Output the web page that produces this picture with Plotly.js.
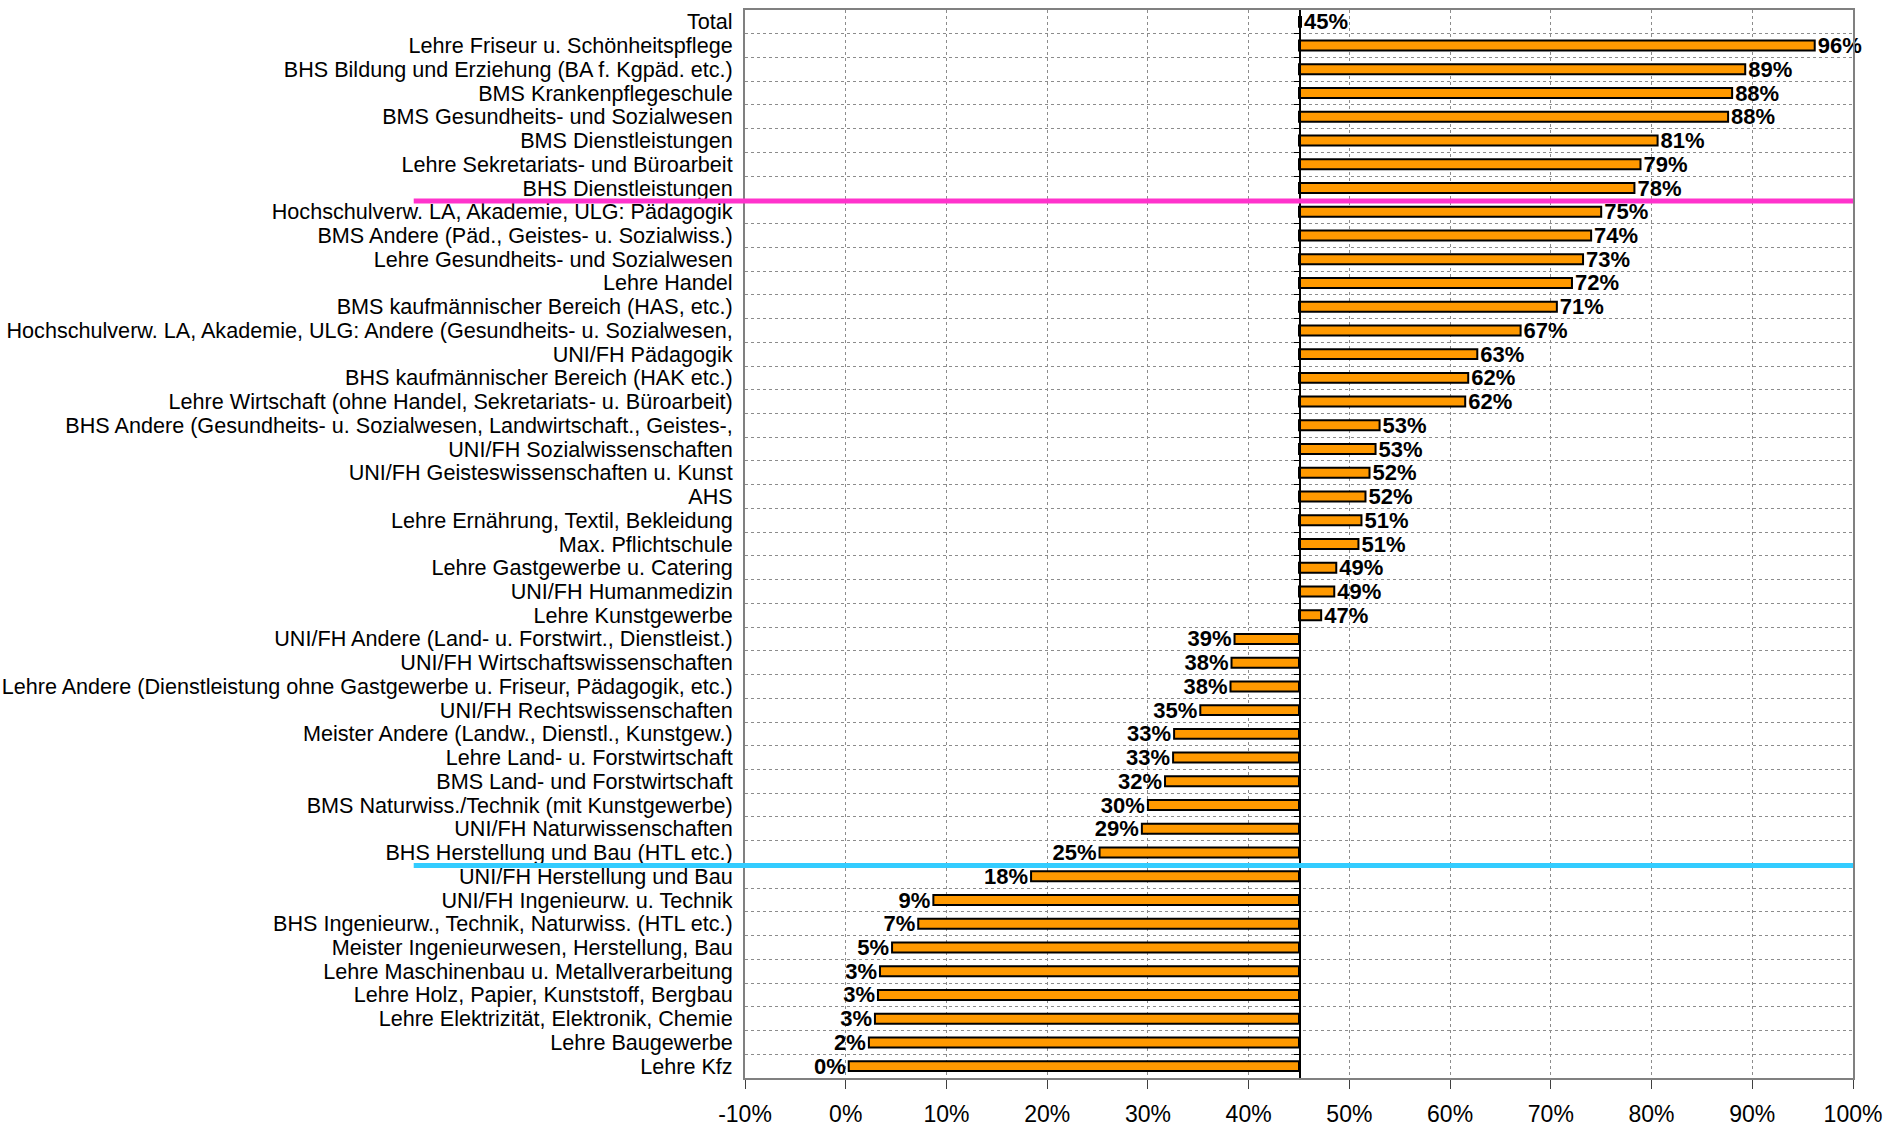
<!DOCTYPE html>
<html>
<head>
<meta charset="utf-8">
<script src="https://cdn.plot.ly/plotly-3.0.1.min.js"></script>
<style>
  html, body { margin: 0; padding: 0; background: #ffffff; }
  #chart { width: 1883px; height: 1132px; }
</style>
</head>
<body>
<div id="chart"></div>
<script>
// ---- data ----
const categories = [
  "Total",
  "Lehre Friseur u. Schönheitspflege",
  "BHS Bildung und Erziehung (BA f. Kgpäd. etc.)",
  "BMS Krankenpflegeschule",
  "BMS Gesundheits- und Sozialwesen",
  "BMS Dienstleistungen",
  "Lehre Sekretariats- und Büroarbeit",
  "BHS Dienstleistungen",
  "Hochschulverw. LA, Akademie, ULG: Pädagogik",
  "BMS Andere (Päd., Geistes- u. Sozialwiss.)",
  "Lehre Gesundheits- und Sozialwesen",
  "Lehre Handel",
  "BMS kaufmännischer Bereich (HAS, etc.)",
  "Hochschulverw. LA, Akademie, ULG: Andere (Gesundheits- u. Sozialwesen,",
  "UNI/FH Pädagogik",
  "BHS kaufmännischer Bereich (HAK etc.)",
  "Lehre Wirtschaft (ohne Handel, Sekretariats- u. Büroarbeit)",
  "BHS Andere (Gesundheits- u. Sozialwesen, Landwirtschaft., Geistes-,",
  "UNI/FH Sozialwissenschaften",
  "UNI/FH Geisteswissenschaften u. Kunst",
  "AHS",
  "Lehre Ernährung, Textil, Bekleidung",
  "Max. Pflichtschule",
  "Lehre Gastgewerbe u. Catering",
  "UNI/FH Humanmedizin",
  "Lehre Kunstgewerbe",
  "UNI/FH Andere (Land- u. Forstwirt., Dienstleist.)",
  "UNI/FH Wirtschaftswissenschaften",
  "Lehre Andere (Dienstleistung ohne Gastgewerbe u. Friseur, Pädagogik, etc.)",
  "UNI/FH Rechtswissenschaften",
  "Meister Andere (Landw., Dienstl., Kunstgew.)",
  "Lehre Land- u. Forstwirtschaft",
  "BMS Land- und Forstwirtschaft",
  "BMS Naturwiss./Technik (mit Kunstgewerbe)",
  "UNI/FH Naturwissenschaften",
  "BHS Herstellung und Bau (HTL etc.)",
  "UNI/FH Herstellung und Bau",
  "UNI/FH Ingenieurw. u. Technik",
  "BHS Ingenieurw., Technik, Naturwiss. (HTL etc.)",
  "Meister Ingenieurwesen, Herstellung, Bau",
  "Lehre Maschinenbau u. Metallverarbeitung",
  "Lehre Holz, Papier, Kunststoff, Bergbau",
  "Lehre Elektrizität, Elektronik, Chemie",
  "Lehre Baugewerbe",
  "Lehre Kfz"
];

// share in percent
const shares = [
  45.2, 96.2, 89.3, 88.0, 87.6, 80.6, 78.9, 78.3,
  75.0, 74.0, 73.2, 72.1, 70.6, 67.0, 62.7, 61.8, 61.5,
  53.0, 52.6, 52.0, 51.6, 51.2, 50.9, 48.7, 48.5, 47.2,
  38.6, 38.3, 38.2, 35.2, 32.6, 32.5, 31.7, 30.0, 29.4, 25.2,
  18.4, 8.7, 7.2, 4.6, 3.4, 3.2, 2.9, 2.3, 0.3
];

// bars start at the total share
const baseline = 45;

const xTickVals = [-10, 0, 10, 20, 30, 40, 50, 60, 70, 80, 90, 100];
const xTickLabels = ["-10%", "0%", "10%", "20%", "30%", "40%", "50%", "60%", "70%", "80%", "90%", "100%"];

// ---- chart ----
const font = "Liberation Sans, Arial, sans-serif";
const n = categories.length;
const boundaryVals = [];
for (let i = 0; i < n - 1; i++) boundaryVals.push(i + 0.5);

const trace = {
  type: "bar",
  orientation: "h",
  y: categories,
  x: shares.map(v => v - baseline),
  base: baseline,
  text: shares.map(v => Math.round(v) + "%"),
  textposition: "outside",
  constraintext: "none",
  cliponaxis: false,
  textfont: { family: font, size: 22, color: "#000000", weight: "bold" },
  marker: { color: "#FF9900", line: { color: "#000000", width: 2 } },
  hoverinfo: "y+text"
};

const layout = {
  width: 1883,
  height: 1132,
  margin: { l: 745, r: 30, t: 10, b: 54 },
  paper_bgcolor: "#ffffff",
  plot_bgcolor: "#ffffff",
  showlegend: false,
  bargap: 0.58,
  font: { family: font, size: 21.6, color: "#000000" },
  xaxis: {
    range: [-10, 100],
    tickvals: xTickVals,
    ticktext: xTickLabels,
    showgrid: true,
    gridcolor: "#8c8c8c",
    griddash: "dot",
    gridwidth: 1,
    zeroline: false,
    showline: true,
    linecolor: "#808080",
    linewidth: 2,
    mirror: true,
    ticks: "outside",
    ticklen: 9,
    tickcolor: "#404040",
    tickwidth: 1,
    ticklabelstandoff: 5,
    ticklabeloverflow: "allow",
    tickfont: { family: font, size: 23, color: "#000000" }
  },
  yaxis: {
    type: "category",
    range: [n - 0.5, -0.5],
    tickmode: "linear",
    tick0: 0,
    dtick: 1,
    showgrid: true,
    tickson: "boundaries",
    gridcolor: "#8c8c8c",
    griddash: "dot",
    gridwidth: 1,
    zeroline: false,
    showline: true,
    linecolor: "#808080",
    linewidth: 2,
    mirror: true,
    ticks: "",
    ticklabelstandoff: 6,
    ticklabeloverflow: "allow",
    tickfont: { family: font, size: 21.6, color: "#000000" }
  },
  yaxis2: {
    overlaying: "y",
    anchor: "free",
    position: 0.5,
    range: [n - 0.5, -0.5],
    tickvals: boundaryVals,
    showticklabels: false,
    ticks: "outside",
    ticklen: 5,
    tickcolor: "#000000",
    showgrid: false,
    zeroline: false,
    showline: true,
    linecolor: "#000000",
    linewidth: 1.5
  },
  shapes: [
    { type: "line", xref: "paper", yref: "y", x0: -0.299, x1: 1.0, y0: 7.55, y1: 7.55,
      line: { color: "#FF33CC", width: 5 }, layer: "above" },
    { type: "line", xref: "paper", yref: "y", x0: -0.299, x1: 1.0, y0: 35.55, y1: 35.55,
      line: { color: "#33CCFF", width: 5 }, layer: "above" }
  ]
};

// empty trace so yaxis2 is drawn
const axisTrace = {
  type: "scatter", mode: "markers", x: [], y: [], yaxis: "y2", hoverinfo: "skip", showlegend: false
};

Plotly.newPlot("chart", [trace, axisTrace], layout, { displayModeBar: false, staticPlot: true });
</script>
</body>
</html>
